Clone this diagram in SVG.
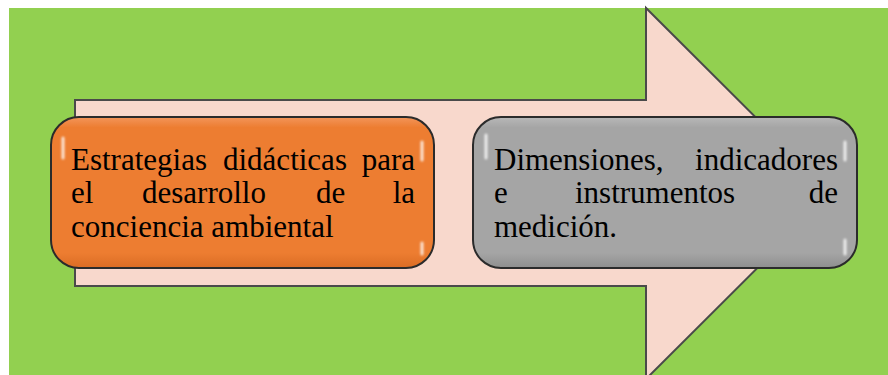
<svg xmlns="http://www.w3.org/2000/svg" width="888" height="375" viewBox="0 0 888 375">
<defs>
<style>
.box{stroke:#2b2b2b;stroke-width:2}
.txt{font-family:"Liberation Serif","Times New Roman",serif;font-size:31px;fill:#000}
.hl{fill:none;stroke:#ffffff;stroke-width:3;stroke-linecap:round;opacity:0.8;filter:url(#soft)}
</style>
<filter id="soft" filterUnits="userSpaceOnUse" x="0" y="0" width="888" height="375"><feGaussianBlur stdDeviation="0.8"/></filter>
<linearGradient id="gO" x1="0" y1="0" x2="0" y2="1">
<stop offset="0" stop-color="#F3955A"/>
<stop offset="0.07" stop-color="#ED7D31"/>
<stop offset="0.9" stop-color="#ED7D31"/>
<stop offset="1" stop-color="#DA6C24"/>
</linearGradient>
<linearGradient id="gG" x1="0" y1="0" x2="0" y2="1">
<stop offset="0" stop-color="#B8B8B8"/>
<stop offset="0.07" stop-color="#A5A5A5"/>
<stop offset="0.9" stop-color="#A5A5A5"/>
<stop offset="1" stop-color="#8E8E8E"/>
</linearGradient>
</defs>
<rect x="0" y="0" width="888" height="375" fill="#ffffff"/>
<rect x="9" y="8" width="879" height="367" fill="#92D050"/>
<g id="connectors">
<path d="M75,100 L646,100 L646,8 L832,193.5 L646,379 L646,286 L75,286 Z" fill="#F8D8CC" stroke="#4a4a4a" stroke-width="2"/>
</g>
<g id="node1">
<rect class="box" x="51" y="117" width="383" height="151" rx="28" fill="url(#gO)"/>
<path class="hl" d="M63,138 L63,158"/>
<path class="hl" d="M422,142 L422,160" opacity="0.6"/>
<path class="hl" d="M422,243 L422,254" opacity="0.6"/>
<text class="txt"><tspan x="71" y="170">Estrategias</tspan><tspan x="223" y="170">didácticas</tspan><tspan x="415" y="170" text-anchor="end">para</tspan></text>
<text class="txt"><tspan x="71" y="203">el</tspan><tspan x="142" y="203">desarrollo</tspan><tspan x="316" y="203">de</tspan><tspan x="415" y="203" text-anchor="end">la</tspan></text>
<text class="txt" x="71" y="237">conciencia ambiental</text>
</g>
<g id="node2">
<rect class="box" x="473" y="117" width="384" height="151" rx="28" fill="url(#gG)"/>
<path class="hl" d="M486,135 L486,158"/>
<path class="hl" d="M845,142 L845,160" opacity="0.65"/>
<path class="hl" d="M845,240 L845,254" opacity="0.65"/>
<text class="txt"><tspan x="494" y="170">Dimensiones,</tspan><tspan x="838" y="170" text-anchor="end">indicadores</tspan></text>
<text class="txt"><tspan x="494" y="203">e</tspan><tspan x="575" y="203">instrumentos</tspan><tspan x="838" y="203" text-anchor="end">de</tspan></text>
<text class="txt" x="494" y="237">medición.</text>
</g>
</svg>
